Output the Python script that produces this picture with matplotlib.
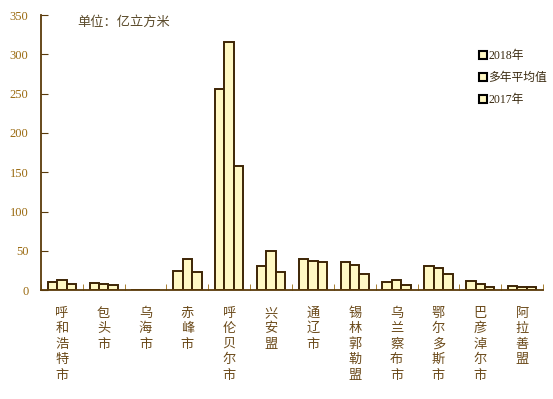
import numpy as np
import matplotlib.pyplot as plt
from matplotlib.lines import Line2D

# data
cities = ['呼和浩特市', '包头市', '乌海市', '赤峰市', '呼伦贝尔市', '兴安盟', '通辽市',
          '锡林郭勒盟', '乌兰察布市', '鄂尔多斯市', '巴彦淖尔市', '阿拉善盟']
y2018 = [10.5, 9, 0.6, 24.5, 256, 30.5, 39, 36, 9.8, 31, 11, 4.7]
avg = [12.5, 8, 0.6, 39, 316, 49.5, 37, 32, 13, 28.5, 7.2, 3.4]
y2017 = [8, 7, 0.6, 23.5, 158, 22.5, 36, 21, 6.8, 21, 3.4, 3.4]
series_labels = ['2018年', '多年平均值', '2017年']
yticks = [0, 50, 100, 150, 200, 250, 300, 350]

plt.rcParams['font.family'] = ['Liberation Serif', 'Noto Sans CJK SC']

fill = '#FFF8C4'
edge = '#3d2505'
axis_col = '#5a3a0a'
tick_col = '#9a6a10'
text_col = '#6b4a1a'

fig = plt.figure(figsize=(5.53, 3.99), dpi=100)
ax = fig.add_axes([0.074, 0.273, 0.908, 0.689])

x = np.arange(len(cities))
w = 0.226
for k, vals in enumerate([y2018, avg, y2017]):
    ax.bar(x + (k - 1) * w, vals, width=w, color=fill, edgecolor=edge, linewidth=1.4)

ax.set_xlim(-0.5, len(cities) - 0.5)
ax.set_ylim(0, 350)
ax.set_yticks(yticks)
ax.set_xticks(x)
ax.set_xticklabels(['\n'.join(c) for c in cities], fontsize=9.5, color=text_col,
                   linespacing=1.25, va='top', family=['Noto Sans CJK SC'])
ax.set_xticks(np.arange(len(cities) + 1) - 0.5, minor=True)
ax.tick_params(axis='x', which='major', length=0, pad=12)
ax.tick_params(axis='x', which='minor', direction='in', length=4, color=tick_col)
ax.tick_params(axis='y', direction='in', length=5, color=axis_col, labelcolor=tick_col,
               labelsize=9, pad=9)

for s in ['top', 'right']:
    ax.spines[s].set_visible(False)
for s in ['left', 'bottom']:
    ax.spines[s].set_color(axis_col)
    ax.spines[s].set_linewidth(1.3)

ax.text(0.072, 0.975, '单位：亿立方米', transform=ax.transAxes, fontsize=9.5,
        color='#5a4a2a', va='center', family=['Noto Sans CJK SC'])

handles = [Line2D([], [], marker='s', linestyle='none', markersize=5.5,
                  markerfacecolor=fill, markeredgecolor='black', markeredgewidth=1.5)
           for _ in series_labels]
leg = ax.legend(handles, series_labels, loc='upper left', bbox_to_anchor=(0.865, 0.89),
                frameon=False, handlelength=0.5, handletextpad=0.2, labelspacing=0.85,
                fontsize=8.5, borderaxespad=0)
for t in leg.get_texts():
    t.set_color('#3a2a10')

fig.savefig('out.png', dpi=100)
